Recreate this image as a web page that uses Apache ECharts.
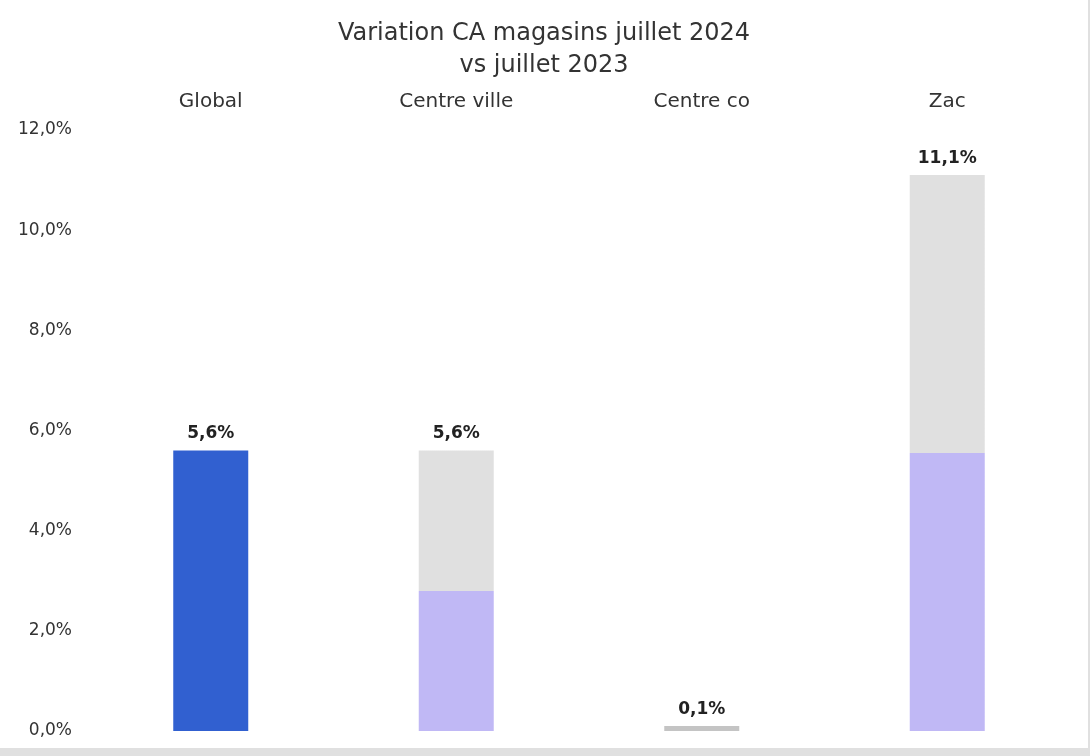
<!DOCTYPE html>
<html>
<head>
<meta charset="utf-8">
<script src="https://cdn.jsdelivr.net/npm/echarts@6/dist/echarts.min.js"></script>
<style>
  html, body { margin: 0; padding: 0; background: #e0e0e0; }
  #chart { width: 1088px; height: 748px; background: #ffffff; }
</style>
</head>
<body>
<div id="chart"></div>
<script>
// données
const categories = ['Global', 'Centre ville', 'Centre co', 'Zac'];
const variations = [5.6, 5.6, 0.1, 11.1];
const yTicks = [0, 2, 4, 6, 8, 10, 12];

const fmt = (v) => v.toFixed(1).replace('.', ',') + '%';

// lavande en bas, gris clair en haut
const splitFill = {
  type: 'linear', x: 0, y: 0, x2: 0, y2: 1,
  colorStops: [
    { offset: 0, color: '#e0e0e0' },
    { offset: 0.5, color: '#e0e0e0' },
    { offset: 0.5, color: '#c0b8f5' },
    { offset: 1, color: '#c0b8f5' }
  ]
};
const barColors = ['#3160d0', splitFill, '#c4c4c4', splitFill];

const chart = echarts.init(document.getElementById('chart'));

chart.setOption({
  animation: false,
  textStyle: { fontFamily: 'DejaVu Sans' },
  title: {
    text: 'Variation CA magasins juillet 2024\nvs juillet 2023',
    left: 'center',
    top: 13,
    textStyle: {
      fontSize: 24,
      fontWeight: 'normal',
      color: '#333',
      lineHeight: 32
    }
  },
  grid: {
    left: 88,
    right: 18,
    top: 130,
    bottom: 17
  },
  xAxis: {
    type: 'category',
    position: 'top',
    data: categories,
    axisLine: { show: false },
    axisTick: { show: false },
    axisLabel: {
      color: '#333',
      fontSize: 20,
      margin: 18
    }
  },
  yAxis: {
    type: 'value',
    min: yTicks[0],
    max: yTicks[yTicks.length - 1],
    interval: 2,
    axisLine: { show: false },
    axisTick: { show: false },
    splitLine: { show: false },
    axisLabel: {
      color: '#333',
      fontSize: 17,
      margin: 16,
      formatter: fmt
    }
  },
  series: [{
    type: 'bar',
    barWidth: 75,
    data: variations.map((v, i) => ({
      value: v,
      itemStyle: { color: barColors[i] }
    })),
    label: {
      show: true,
      position: 'top',
      distance: 8,
      color: '#222',
      fontSize: 17,
      fontWeight: 'bold',
      formatter: (p) => fmt(p.value)
    }
  }]
});
</script>
</body>
</html>
